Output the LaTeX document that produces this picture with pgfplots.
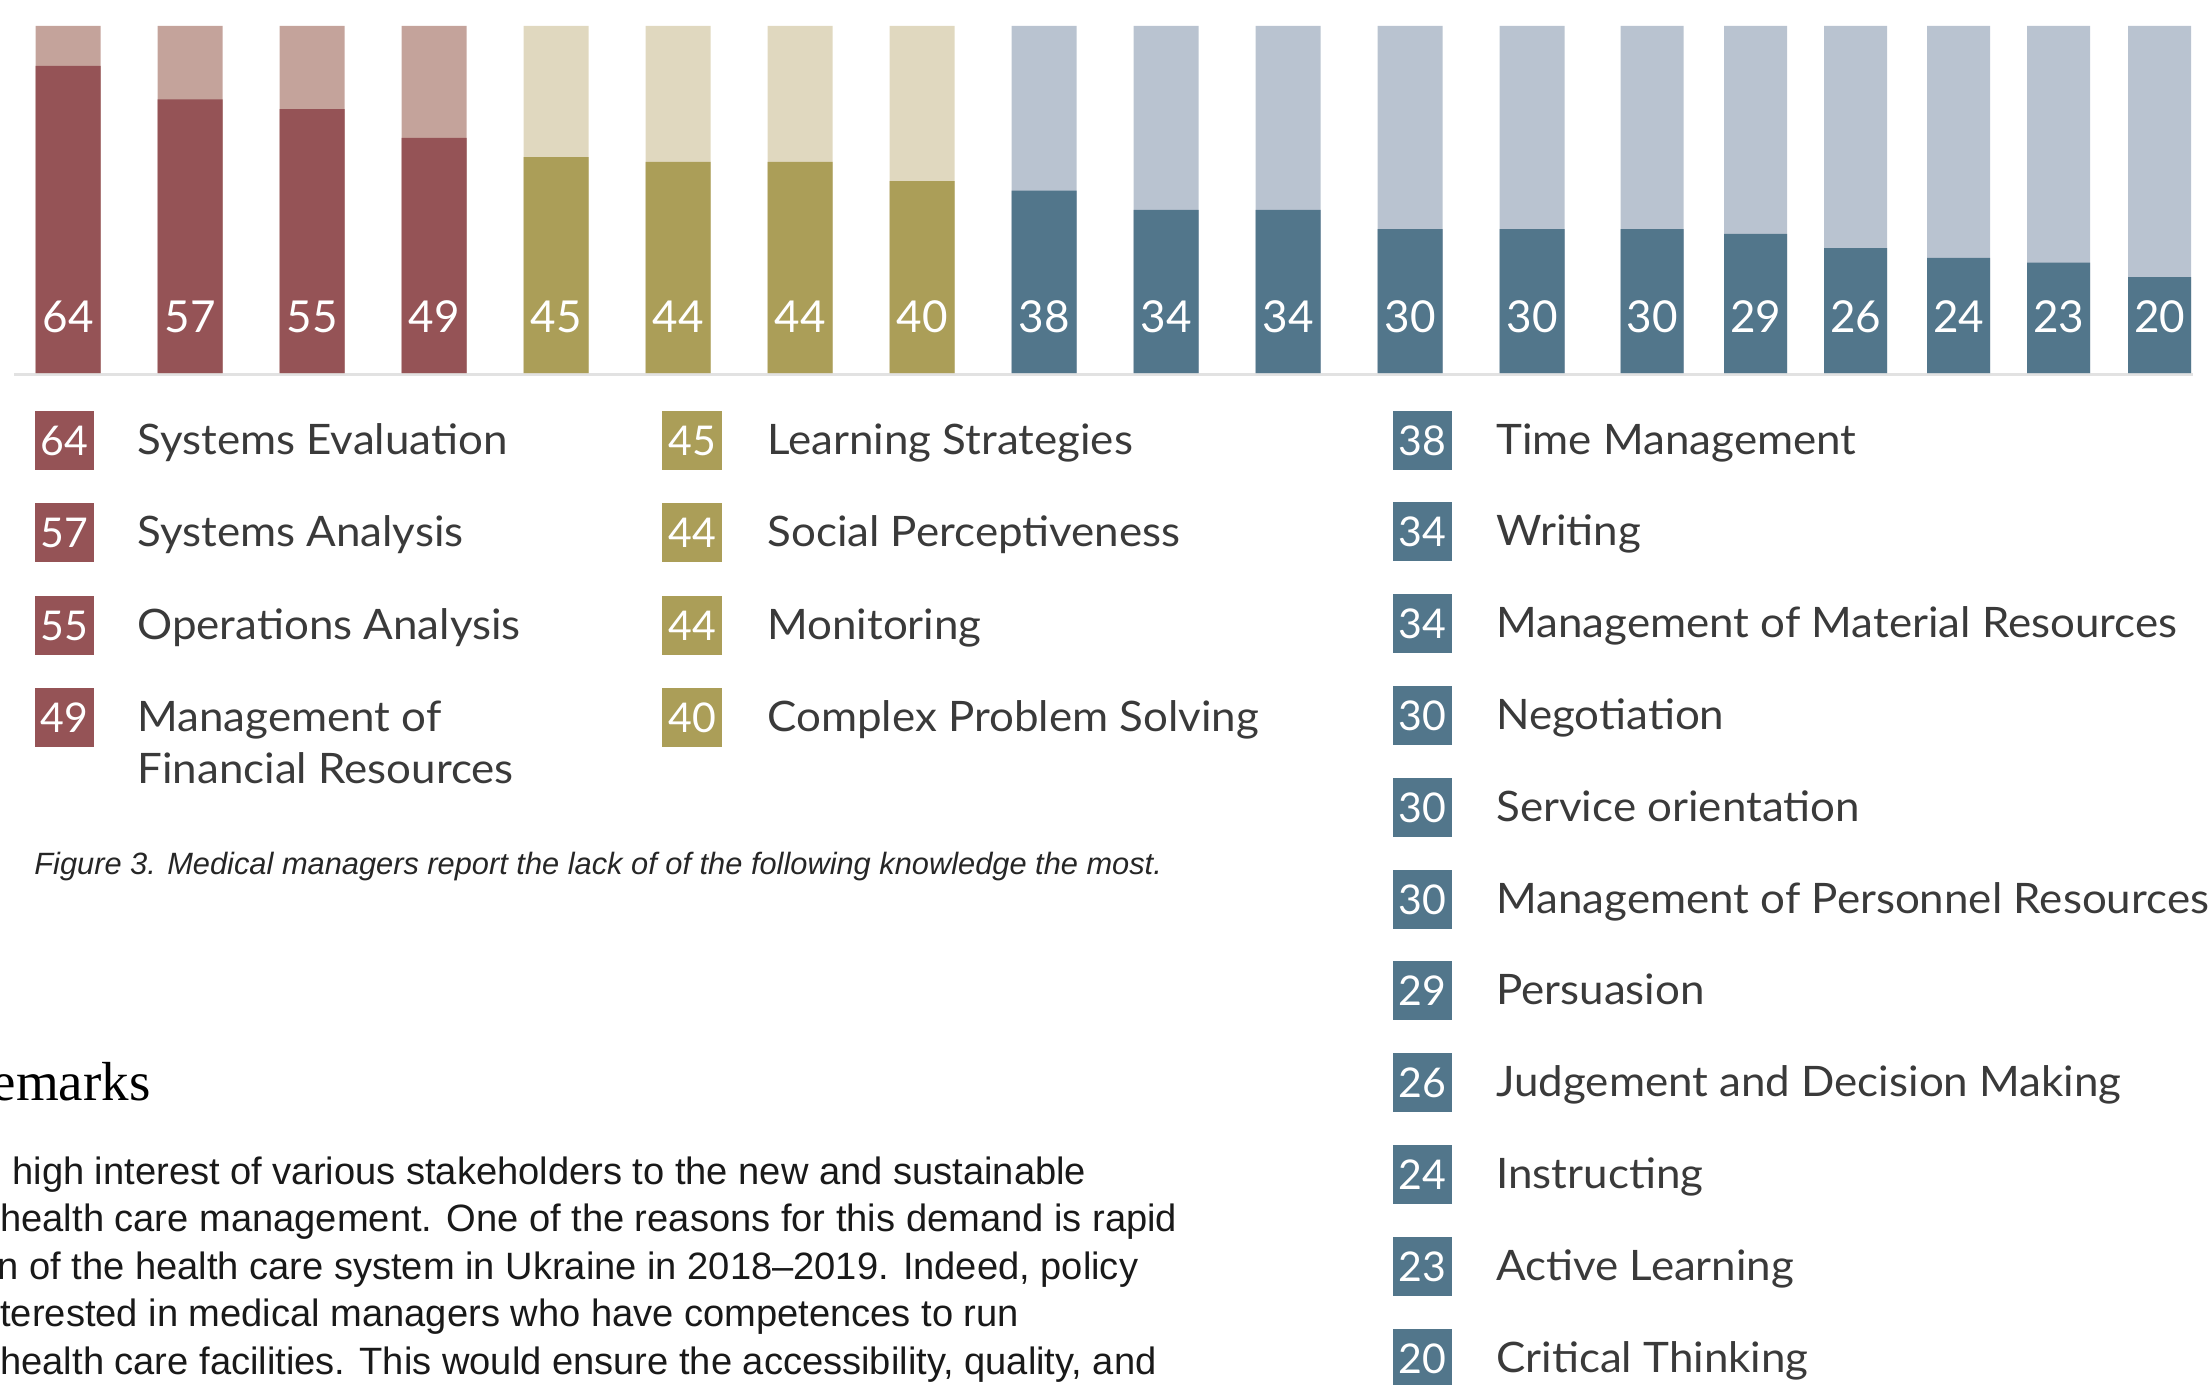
\documentclass[border=0pt]{standalone}
\usepackage{graphicx}
\usepackage{pgfplots}
\pgfplotsset{compat=1.18}
\usepackage{fontspec}
\setmainfont{Lato}
\newfontfamily\arialf{Liberation Sans}
\newfontfamily\serff{Liberation Serif}
\definecolor{rD}{HTML}{955356}
\definecolor{rL}{HTML}{C4A39B}
\definecolor{oD}{HTML}{AB9E58}
\definecolor{oL}{HTML}{E0D8BF}
\definecolor{bD}{HTML}{52768B}
\definecolor{bL}{HTML}{B9C3D0}
\definecolor{txt}{HTML}{3A3A3A}
\definecolor{axgray}{HTML}{E2E2E2}
\newcommand\legf{\fontsize{21}{25}\selectfont}
\newcommand\numf{\fontsize{20.5}{24}\selectfont}
\newcommand\barf{\fontsize{22}{26}\selectfont}
\newcommand\lt[1]{\scalebox{1.045}[1]{#1}}
\begin{document}
\begin{tikzpicture}
\useasboundingbox (0,0) rectangle (1104.5pt,-692.5pt);
\clip (0,0) rectangle (1104.5pt,-692.5pt);
\begin{axis}[
  at={(7pt,-187.25pt)}, anchor=south west,
  scale only axis, width=1089.5pt, height=174.25pt,
  xmin=14, xmax=2193, ymin=-0.3125, ymax=72.3,
  axis x line*=bottom, hide y axis,
  x axis line style={-, draw=axgray, line width=1.5pt},
  xtick=\empty, ytick=\empty, clip=false,
  every node near coord/.append style={anchor=base, text=white, font=\barf, inner sep=0pt},
]
% background (light) bars
\addplot[ybar, bar width=65, bar shift=0pt, fill=rL, draw=none] coordinates {(68,72.3) (190,72.3) (312,72.3) (434,72.3)};
\addplot[ybar, bar width=65, bar shift=0pt, fill=oL, draw=none] coordinates {(556,72.3) (678,72.3) (800,72.3) (922,72.3)};
\addplot[ybar, bar width=65, bar shift=0pt, fill=bL, draw=none] coordinates {(1044,72.3) (1166,72.3) (1288,72.3) (1410,72.3) (1532,72.3)};
\addplot[ybar, bar width=63, bar shift=0pt, fill=bL, draw=none] coordinates {(1652,72.3) (1755.5,72.3) (1855.5,72.3) (1958.5,72.3) (2058.5,72.3) (2159.5,72.3)};
% value bars
\addplot[ybar, bar width=65, bar shift=0pt, fill=rD, draw=none] coordinates {(68,64) (190,57) (312,55) (434,49)};
\addplot[ybar, bar width=65, bar shift=0pt, fill=oD, draw=none] coordinates {(556,45) (678,44) (800,44) (922,40)};
\addplot[ybar, bar width=65, bar shift=0pt, fill=bD, draw=none] coordinates {(1044,38) (1166,34) (1288,34) (1410,30) (1532,30)};
\addplot[ybar, bar width=63, bar shift=0pt, fill=bD, draw=none] coordinates {(1652,30) (1755.5,29) (1855.5,26) (1958.5,24) (2058.5,23) (2159.5,20)};
% value labels
\addplot[draw=none, mark=none, nodes near coords={\pgfplotspointmeta}, point meta=explicit symbolic]
 coordinates {(68,8.54) [64] (190,8.54) [57] (312,8.54) [55] (434,8.54) [49]
 (556,8.54) [45] (678,8.54) [44] (800,8.54) [44] (922,8.54) [40]
 (1044,8.54) [38] (1166,8.54) [34] (1288,8.54) [34] (1410,8.54) [30] (1532,8.54) [30]
 (1652,8.54) [30] (1755.5,8.54) [29] (1855.5,8.54) [26] (1958.5,8.54) [24] (2058.5,8.54) [23] (2159.5,8.54) [20]};
\end{axis}
\begin{scope}[x=0.5pt,y=-0.5pt]
% column 1
\foreach \y/\v/\t in {440/64/Systems Evaluation,532/57/Systems Analysis,625/55/Operations Analysis,717/49/Management of}{
  \fill[rD] (35,\y-29.5) rectangle (94,\y+29.5);
  \node[anchor=base, text=white, font=\numf, inner sep=0pt] at (64.5,\y+15) {\v};
  \node[anchor=base west, text=txt, font=\legf, inner sep=0pt] at (137,\y+14) {\lt{\t}};
}
\node[anchor=base west, text=txt, font=\legf, inner sep=0pt] at (137,783) {\lt{Financial Resources}};
% column 2
\foreach \y/\v/\t in {440/45/Learning Strategies,532/44/Social Perceptiveness,625/44/Monitoring,717/40/Complex Problem Solving}{
  \fill[oD] (662,\y-29.5) rectangle (722,\y+29.5);
  \node[anchor=base, text=white, font=\numf, inner sep=0pt] at (692,\y+15) {\v};
  \node[anchor=base west, text=txt, font=\legf, inner sep=0pt] at (767,\y+14) {\lt{\t}};
}
% column 3
\foreach \k/\v/\t in {0/38/Time Management,1/34/Writing,2/34/Management of Material Resources,3/30/Negotiation,4/30/Service orientation,5/30/Management of Personnel Resources,6/29/Persuasion,7/26/Judgement and Decision Making,8/24/Instructing,9/23/Active Learning,10/20/Critical Thinking}{
  \pgfmathsetmacro\y{440+91.8*\k}
  \fill[bD] (1393,\y-29.5) rectangle (1452,\y+29.5);
  \node[anchor=base, text=white, font=\numf, inner sep=0pt] at (1422.5,\y+15) {\v};
  \node[anchor=base west, text=txt, font=\legf, inner sep=0pt] at (1496,\y+14) {\lt{\t}};
}
% caption
\node[anchor=base west, inner sep=0pt, text=black!85, font=\arialf\itshape\fontsize{15.4}{18}\selectfont] at (34,874) {Figure 3. Medical managers report the lack of of the following knowledge the most.};
% heading
\node[anchor=base east, inner sep=0pt, font=\serff\fontsize{27.5}{31}\selectfont] at (151,1100) {Remarks};
% body
\begin{scope}[every node/.style={anchor=base west, inner sep=0pt, text=black!90, font=\arialf\fontsize{19.05}{24}\selectfont}]
\node at (12,1184) {high interest of various stakeholders to the new and sustainable};
\node at (0,1231.5) {health care management. One of the reasons for this demand is rapid};
\node at (-3,1279) {n of the health care system in Ukraine in 2018–2019. Indeed, policy};
\node at (0,1326.5) {terested in medical managers who have competences to run};
\node at (0,1374) {health care facilities. This would ensure the accessibility, quality, and};
\end{scope}
\end{scope}
\end{tikzpicture}
\end{document}
